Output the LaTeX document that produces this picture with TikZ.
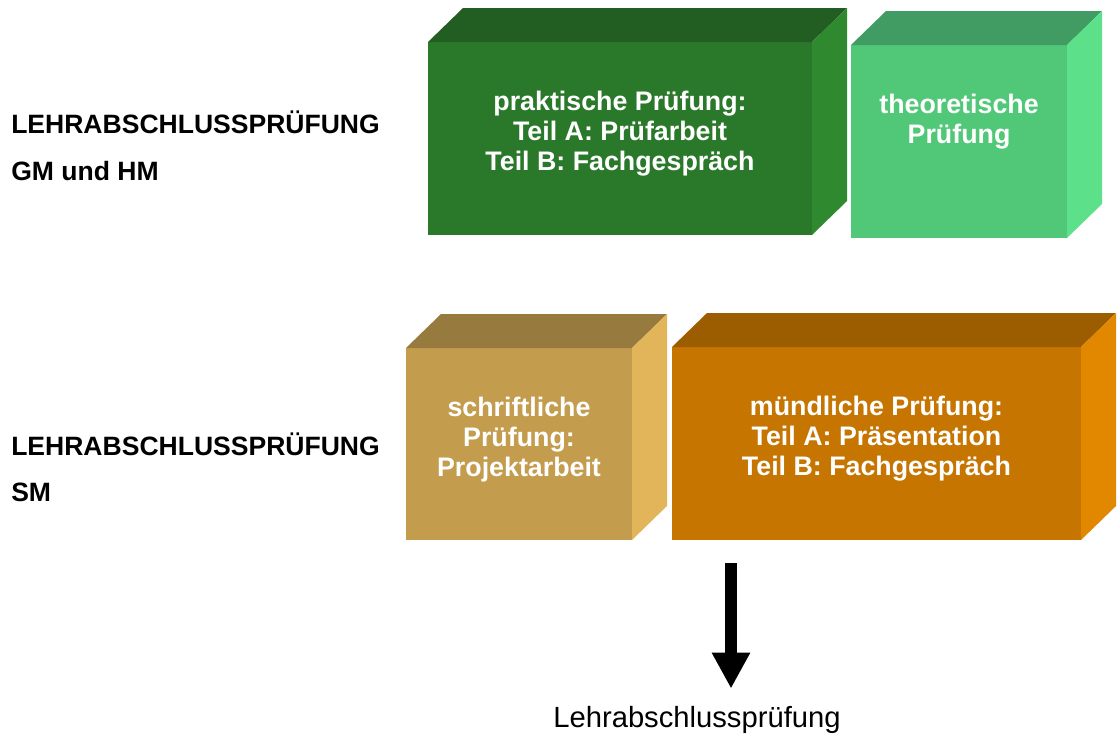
\documentclass[tikz,border=0pt]{standalone}
\usepackage{fontspec}
\setmainfont{Liberation Sans}
\usepackage{tikz}
\usetikzlibrary{arrows.meta, calc}

\definecolor{gmfront}{HTML}{2A782A}
\definecolor{gmtop}{HTML}{225E22}
\definecolor{gmside}{HTML}{2F8A2F}
\definecolor{lgfront}{HTML}{50C878}
\definecolor{lgtop}{HTML}{409C62}
\definecolor{lgside}{HTML}{5DE08A}
\definecolor{tanfront}{HTML}{C49C4E}
\definecolor{tantop}{HTML}{977A3E}
\definecolor{tanside}{HTML}{E2B55B}
\definecolor{orfront}{HTML}{C57500}
\definecolor{ortop}{HTML}{9B5D00}
\definecolor{orside}{HTML}{E28800}

\tikzset{
	face/.style={inner sep=0pt, outer sep=0pt, minimum height=144.75pt},
	boxtext/.style={text=white, font=\bfseries\fontsize{20.1}{22.5}\selectfont, align=center, anchor=north, inner sep=0pt},
	rowlabel/.style={font=\bfseries\fontsize{19.9}{23}\selectfont, anchor=base west, inner sep=0pt},
	bigarrow/.style={line width=9.5pt, -{Triangle[length=27pt, width=27pt]}}
}

\begin{document}
\begin{tikzpicture}[x=0.75pt, y=-0.75pt]
				\useasboundingbox (0,0) rectangle (1117,736);
				
				% front faces
				\node[face, fill=gmfront, minimum width=288pt] (prak) at (620,138.5) {};
				\node[face, fill=lgfront, minimum width=162pt] (theo) at (959,141.5) {};
				\node[face, fill=tanfront, minimum width=169.5pt, minimum height=144pt] (schr) at (519,444) {};
				\node[face, fill=orfront, minimum width=306.75pt] (muend) at (876.5,443.5) {};
				
				% top and side faces
				\foreach \n/\ct/\cs in {prak/gmtop/gmside, theo/lgtop/lgside, schr/tantop/tanside, muend/ortop/orside}{
					\fill[\ct] (\n.north west) -- ++(35,-34) -- ([shift={(35,-34)}]\n.north east) -- (\n.north east) -- cycle;
					\fill[\cs] (\n.north east) -- ++(35,-34) -- ([shift={(35,-34)}]\n.south east) -- (\n.south east) -- cycle;
				}
				
				% texts on the boxes
				\node[boxtext] (prakt) at ([yshift=-36.5pt]prak.north) {praktische Prüfung:\\Teil A: Prüfarbeit\\Teil B: Fachgespräch};
				\node[boxtext] (theot) at ([yshift=-36.5pt]theo.north) {theoretische\\Prüfung};
				\node[boxtext] (schrt) at ([yshift=-36.5pt]schr.north) {schriftliche\\Prüfung:\\Projektarbeit};
				\node[boxtext] (muendt) at ([yshift=-36.5pt]muend.north) {mündliche Prüfung:\\Teil A: Präsentation\\Teil B: Fachgespräch};
				
				% row labels
				\node[rowlabel] (gmhma) at (11,133) {LEHRABSCHLUSSPRÜFUNG};
				\node[rowlabel] (gmhmb) at (11,180) {GM und HM};
				\node[rowlabel] (sma) at (11,455) {LEHRABSCHLUSSPRÜFUNG};
				\node[rowlabel] (smb) at (11,501) {SM};
				
				% result
				\node[font=\fontsize{21.9}{26}\selectfont, anchor=base, inner sep=0pt] (res) at (697,727) {Lehrabschlussprüfung};
				\coordinate (arrtop) at (731,563);
				\draw[bigarrow, shorten >=12.75pt] (arrtop) -- (arrtop |- res.north);
			\end{tikzpicture}
\end{document}
